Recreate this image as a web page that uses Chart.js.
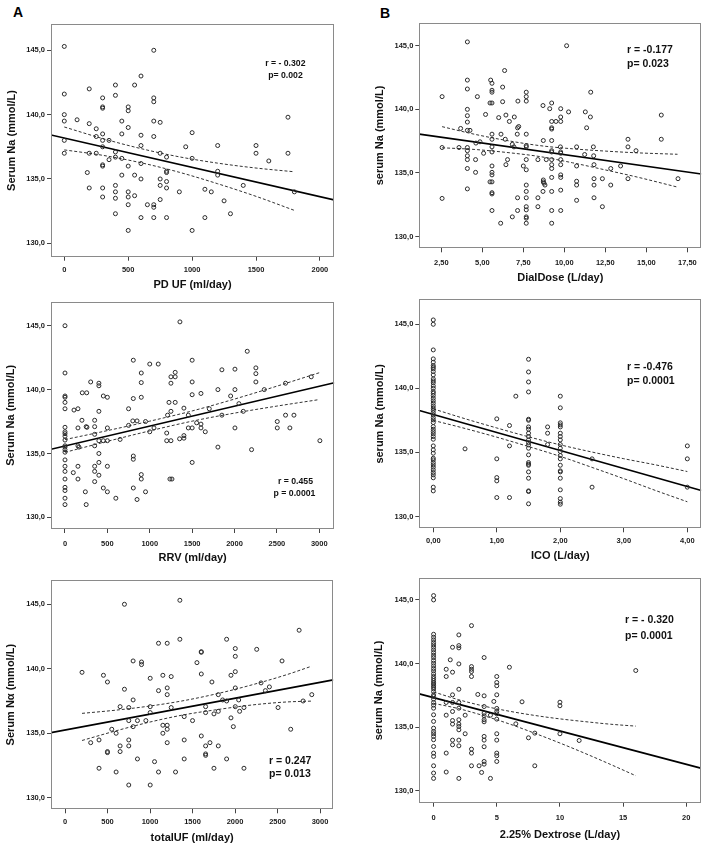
<!DOCTYPE html>
<html><head><meta charset="utf-8">
<script src="https://cdn.jsdelivr.net/npm/chart.js@4.4.1/dist/chart.umd.min.js"></script>
<style>
html,body{margin:0;padding:0;background:#fff;}
body{width:709px;height:849px;position:relative;overflow:hidden;font-family:'Liberation Sans',Arial,sans-serif;}
canvas{position:absolute;}
.lbl{position:absolute;font:bold 14px 'Liberation Sans',Arial,sans-serif;line-height:14px;color:#000;}
</style></head><body>
<div class="lbl" style="left:13px;top:5px">A</div>
<div class="lbl" style="left:380px;top:6px">B</div>
<canvas id="a1"></canvas><canvas id="b1"></canvas>
<canvas id="a2"></canvas><canvas id="b2"></canvas>
<canvas id="a3"></canvas><canvas id="b3"></canvas>
<script>
// ---------------- DATA ----------------
// scatter points grouped by x value: [x, [y values...]]
const A1_POINTS = [[0,[145.3,141.6,140.0,139.5,138.0,137.0]],[100,[139.6]],[180,[135.5]],[195,[142.0,139.3,137.0,134.3]],[250,[138.9,138.3,137.0]],[300,[141.3,140.6,140.5,138.5,138.0,137.5,136.1,136.0,134.3,133.6]],[350,[138.0,136.5]],[400,[142.3,141.5,137.1,136.7,134.5,134.0,133.5,132.3]],[450,[139.5,138.5,136.6,135.3]],[500,[140.6,140.3,139.0,136.0,134.0,133.6,133.0,131.0]],[550,[142.3,135.3,133.7]],[600,[143.0,138.4,137.6,136.2,135.0,132.0]],[650,[133.0]],[700,[145.0,141.3,141.0,139.5,138.3,133.0,132.8,132.0]],[750,[139.4,137.0,135.0,134.5,133.4]],[800,[136.7,135.6,135.5,134.8,134.3,132.0]],[900,[134.0]],[950,[137.5]],[1000,[138.6,136.6,131.0]],[1100,[134.2,132.0]],[1150,[134.0]],[1200,[137.6,135.6,135.3]],[1250,[133.3]],[1300,[132.3]],[1400,[134.5]],[1500,[137.6,137.0]],[1600,[136.4]],[1750,[139.8,137.0]],[1800,[134.0]]];
const A1_FIT = [[-104,138.42],[2110,133.37]];
const A1_BAND_X = [0,300,600,900,1200,1500,1800];
const A1_BAND_UP = [139.04,138.14,137.36,136.72,136.23,135.85,135.56];
const A1_BAND_LO = [137.26,136.84,136.26,135.52,134.63,133.65,132.56];
const A1_X_TICKS = [0,500,1000,1500,2000];

const B1_POINTS = [[2.55,[141.0,137.0,133.0]],[3.58,[137.0]],[3.68,[138.5]],[4.09,[145.3,142.3,141.6,140.0,139.5,139.0,138.35,137.0,136.75,136.35,136.05,135.35,133.75]],[4.25,[138.35]],[4.59,[136.05,135.05]],[4.61,[137.35]],[4.7,[141.0]],[4.86,[137.45]],[5.08,[136.55]],[5.2,[139.6]],[5.47,[140.5,134.3]],[5.51,[142.3]],[5.59,[142.05,141.5,141.35,140.5,138.05,137.65,137.05,136.65,135.55,135.05,134.85,134.3,133.45,133.35,132.05]],[6.0,[139.35]],[6.12,[131.05]],[6.14,[138.05]],[6.24,[141.75,140.6]],[6.36,[143.05]],[6.4,[137.65]],[6.44,[139.55,135.65]],[6.54,[136.05]],[6.65,[139.05]],[6.83,[137.25,131.55]],[6.93,[137.05]],[6.95,[139.4]],[7.13,[138.05]],[7.15,[138.55,133.05,132.05]],[7.17,[140.65]],[7.22,[138.65]],[7.5,[135.55]],[7.68,[141.35,141.0,140.65,138.05,137.15,137.05,136.05,135.25,134.05,133.55,133.05,132.35,132.1,131.55,131.45,131.05]],[8.39,[136.05,133.05,132.35]],[8.7,[140.3,133.55]],[8.72,[137.55,134.45,134.3]],[8.76,[134.2]],[8.82,[134.05]],[8.9,[136.05]],[9.11,[140.05]],[9.23,[140.5,139.05,138.55,138.45,137.55,136.75,136.65,136.05,135.65,135.35,134.65,133.55,132.05,131.05]],[9.49,[139.05]],[9.76,[137.05]],[9.78,[140.05,139.4,139.05,136.65,136.55,136.05,135.65,134.85,134.65,133.65,132.05]],[10.14,[145.0]],[10.26,[139.8]],[10.75,[137.05,135.55,134.35,134.05,132.85]],[11.24,[136.45]],[11.28,[139.8]],[11.36,[138.55]],[11.59,[139.4]],[11.61,[141.35]],[11.77,[137.05]],[11.79,[136.35]],[11.81,[135.65,134.55,134.05,133.05]],[12.32,[134.55,132.35]],[12.83,[135.35,134.05]],[13.43,[135.55]],[13.88,[137.65,137.05,134.55]],[14.37,[136.75]],[15.91,[139.55,137.65]],[16.93,[134.55]]];
const B1_FIT = [[1.16,138.06],[18.35,134.92]];
const B1_BAND_X = [2.55,4.5,6.5,8.5,10.5,12.5,14.5,16.9];
const B1_BAND_UP = [138.64,138.05,137.55,137.15,136.9,136.72,136.58,136.47];
const B1_BAND_LO = [136.98,136.85,136.61,136.29,135.8,135.24,134.66,133.89];
const B1_X_TICKS = [2.5,5,7.5,10,12.5,15,17.5];

const A2_POINTS = [[0,[145.0,141.3,139.5,139.4,139.0,138.5,137.05,136.7,136.55,136.35,136.05,135.6,135.5,135.3,135.1,134.5,134.0,133.6,133.0,132.35,132.1,131.5,131.0]],[98,[133.5]],[106,[138.4]],[153,[138.5,137.0,135.6,134.0,133.0]],[165,[135.5]],[200,[137.6]],[204,[139.75]],[240,[132.0]],[250,[137.1,131.0]],[256,[139.75]],[259,[137.05]],[303,[140.6]],[350,[137.6,137.1,136.5,135.6,134.0,133.6,132.8]],[400,[140.5,140.3,138.3,136.0,135.0,134.3,133.3]],[452,[139.5,136.0,132.3]],[500,[139.4,137.0,136.0,134.0,132.0]],[600,[131.5]],[650,[136.1]],[750,[138.5,137.2]],[800,[137.55]],[806,[142.3,139.3,134.8,134.55,132.3]],[850,[137.55,131.4]],[900,[141.3,140.55,139.4,133.35,133.0]],[950,[137.5,132.0]],[1000,[142.0,136.7]],[1050,[137.0]],[1100,[142.0]],[1200,[136.6,136.0]],[1210,[138.0]],[1227,[139.0]],[1238,[133.0]],[1250,[141.0,140.5,138.3,136.0]],[1262,[133.0]],[1300,[141.35,141.0,139.0]],[1352,[136.15]],[1356,[145.3]],[1403,[138.55,136.4,136.2]],[1455,[138.0,137.0]],[1500,[142.3,140.6,139.6,137.0,134.3]],[1553,[137.4]],[1604,[139.7,137.3,137.0]],[1655,[136.7]],[1702,[138.5]],[1804,[140.0,135.5]],[1851,[141.55,138.0]],[1954,[139.5]],[2005,[141.6,140.0,137.0]],[2052,[138.9]],[2103,[138.3]],[2150,[143.0]],[2201,[135.3]],[2252,[141.7,141.25,140.6]],[2351,[140.0]],[2504,[137.5,137.0]],[2602,[140.5,138.0]],[2653,[137.0]],[2701,[138.0]],[2905,[141.0]],[3007,[136.0]]];
const A2_FIT = [[-165,135.33],[3177,140.54]];
const A2_BAND_X = [0,500,1000,1500,2000,2500,3000];
const A2_BAND_UP = [136.09,136.79,137.53,138.33,139.26,140.27,141.32];
const A2_BAND_LO = [135.09,135.95,136.77,137.53,138.16,138.71,139.22];
const A2_X_TICKS = [0,500,1000,1500,2000,2500,3000];

const B2_POINTS = [[0,[145.34,145.0,143.0,142.3,142.04,141.78,141.65,141.52,141.31,141.05,140.74,140.58,140.43,140.19,140.0,139.75,139.62,139.44,139.23,139.03,138.84,138.63,138.45,138.29,138.11,137.93,137.72,137.54,137.33,137.02,136.81,136.63,136.45,136.24,136.03,135.51,135.2,134.94,134.55,134.42,134.21,134.03,133.85,133.64,133.43,133.25,133.02,132.29,132.0]],[0.5,[135.28]],[1.0,[137.62,134.5,133.04,132.78,131.48]],[1.2,[137.1,135.51,131.48]],[1.3,[139.39]],[1.5,[142.27,141.28,140.5,139.72,137.59,137.51,136.99,136.81,136.5,136.24,135.98,135.77,135.59,135.33,134.81,134.21,134.08,134.0,133.48,132.99,132.0,131.95,130.99]],[1.8,[136.99,136.5,135.62]],[2.0,[139.39,138.48,137.31,137.15,136.99,136.5,136.24,135.98,135.62,135.33,135.07,134.76,134.5,134.0,133.56,133.48,132.99,132.08,131.4,131.12,130.96]],[2.5,[134.5,132.29]],[4.0,[135.51,134.5,132.29]]];
const B2_FIT = [[-0.22,138.27],[4.22,132.03]];
const B2_BAND_X = [0,0.5,1,1.5,2,2.5,3,3.5,4];
const B2_BAND_UP = [138.40,137.63,136.91,136.22,135.59,135.03,134.51,134.03,133.51];
const B2_BAND_LO = [137.50,136.87,136.19,135.46,134.69,133.83,132.95,132.03,131.15];
const B2_X_TICKS = [0,1,2,3,4];

const A3_POINTS = [[200,[139.73]],[302,[134.28]],[400,[134.49,132.3]],[452,[139.5]],[499,[138.98,133.59,133.51]],[550,[135.32]],[601,[135.01,132.01]],[648,[137.07,134.03,133.59]],[699,[145.0,138.42]],[750,[137.0,135.99,134.49,134.03,131.0]],[801,[140.61,137.59,135.52]],[852,[135.99,133.02]],[900,[140.53,140.33]],[951,[135.99]],[1002,[139.27,137.07,136.61,131.0]],[1053,[132.81]],[1100,[141.98,138.31,132.01]],[1151,[139.5,135.63,135.01]],[1202,[141.98,138.52,138.0,135.63,135.32,134.28]],[1249,[139.4,137.0]],[1300,[132.01]],[1351,[145.31,142.29]],[1402,[136.3,134.49,133.02]],[1500,[135.99]],[1552,[140.48]],[1603,[141.33,141.28,139.6,134.8]],[1654,[137.07,136.61,134.03,133.41,133.3]],[1705,[134.28]],[1728,[138.98]],[1752,[136.51,132.3]],[1803,[138.0,136.71,134.03]],[1854,[137.59]],[1901,[142.29,137.51,133.02]],[1952,[139.5,136.2]],[1980,[135.52]],[2003,[141.57,140.97,139.78,138.52,137.07]],[2043,[137.59]],[2054,[136.71]],[2105,[137.0,132.3]],[2255,[141.51]],[2306,[138.91]],[2357,[138.31]],[2404,[138.6]],[2506,[137.0]],[2553,[140.61]],[2655,[135.32]],[2754,[142.99]],[2801,[137.51]],[2903,[138.0]]];
const A3_FIT = [[-165,135.05],[3156,139.14]];
const A3_BAND_X = [200,600,1000,1400,1800,2200,2600,2900];
const A3_BAND_UP = [136.55,136.8,137.12,137.54,138.09,138.76,139.53,140.2];
const A3_BAND_LO = [134.45,135.2,135.88,136.44,136.85,137.2,137.43,137.5];
const A3_X_TICKS = [0,500,1000,1500,2000,2500,3000];

const B3_POINTS = [[0,[145.34,145.0,142.3,142.07,141.86,141.65,141.47,141.28,141.07,140.86,140.65,140.47,140.24,140.03,139.82,139.61,139.42,139.19,138.98,138.82,138.66,138.51,138.4,138.27,138.14,138.01,137.8,137.54,137.41,137.2,136.94,136.73,136.49,135.97,135.45,134.92,134.66,134.48,134.27,134.01,133.48,132.96,132.7,131.96,131.39,130.97]],[1.0,[139.55,138.98,136.94,135.94,132.96,131.47]],[1.32,[140.29]],[1.5,[141.28,139.32,137.54,136.94,136.23,135.52,135.24,133.98,133.61]],[2.0,[142.25,141.41,141.23,139.97,137.98,136.94,136.49,135.58,135.24,135.05,134.79,133.98,133.53,130.97]],[2.5,[135.94,134.48]],[3.0,[142.98,139.76,139.55,139.37,138.98,133.27,132.96,131.96]],[3.5,[137.57]],[3.6,[131.96]],[3.8,[131.44]],[4.0,[140.47,137.46,136.62,136.1,135.89,135.58,135.42,134.27,133.98,133.46,132.3,132.09]],[4.5,[135.94,130.97]],[4.77,[137.02]],[5.0,[138.98,138.51,138.25,137.54,136.47,136.23,136.05,135.63,134.48,133.98,132.96,132.75,132.3]],[6.0,[139.71]],[6.51,[135.26]],[7.0,[136.99]],[7.51,[134.16]],[8.01,[134.53,131.96]],[10.0,[136.96,136.68,134.48]],[11.52,[133.95]],[16.0,[139.45]]];
const B3_FIT = [[-1.13,137.62],[21.14,131.78]];
const B3_BAND_X = [0,2,4,6,8,10,12,14,16];
const B3_BAND_UP = [137.77,137.15,136.65,136.25,135.92,135.65,135.43,135.23,135.08];
const B3_BAND_LO = [136.87,136.45,135.89,135.25,134.52,133.75,132.93,132.07,131.18];
const B3_X_TICKS = [0,5,10,15,20];

const Y_TICKS = [130,135,140,145];
const X_TITLES = ['PD UF (ml/day)','DialDose (L/day)','RRV (ml/day)','ICO (L/day)','totalUF (ml/day)','2.25% Dextrose (L/day)'];
const Y_TITLES = ['Serum Na (mmol/L)','serum Na (mmol/L)','Serum Na (mmol/L)','serum Na (mmol/L)','Serum N\u03b1 (mmol/L)','serum Na (mmol/L)'];
const NOTES = [['r = - 0.302','p= 0.002'],['r = -0.177','p= 0.023'],['r = 0.455','p = 0.0001'],['r = -0.476','p= 0.0001'],['r = 0.247','p= 0.013'],['r = - 0.320','p= 0.0001']];

// ---------------- helpers ----------------
function flatten(cols){ const out=[]; cols.forEach(([x,ys])=>ys.forEach(y=>out.push({x,y}))); return out; }
function pairs(arr){ return arr.map(([x,y])=>({x,y})); }
function zip(xs,ys){ return xs.map((x,i)=>({x,y:ys[i]})); }
const comma = d => v => Number(v).toFixed(d).replace('.',',');

Chart.defaults.font.family = "'Liberation Sans', Arial, sans-serif";
Chart.defaults.color = '#1a1a1a';

const panelDecor = {
  id:'panelDecor',
  afterDatasetsDraw(chart, args, o){
    const {ctx, chartArea:a} = chart;
    ctx.save();
    ctx.strokeStyle = '#8a8a8a'; ctx.lineWidth = 1;
    const l=Math.round(a.left), t=Math.round(a.top), r=Math.round(a.right), b=Math.round(a.bottom);
    ctx.strokeRect(l+0.5, t+0.5, r-l-1, b-t-1);
    ctx.fillStyle = '#111'; ctx.font = o.font; ctx.textAlign = o.align; ctx.textBaseline = 'middle';
    o.notes.forEach(([txt,x,y])=>ctx.fillText(txt,x,y));
    ctx.restore();
  }
};
Chart.register(panelDecor);

// layout of each panel (positions only)
const LAYOUT = [
 {id:'a1',left:0,top:0,w:354,h:295,padTop:24.3,padRight:20,yW:51,xH:38.3,xMin:-104,xMax:2110,yMin:128.96,yMax:147.02,xFmt:comma(0),xTickPad:4.5,xTitlePad:3.4,yTitlePad:5.4,
  noteFont:"bold 8.7px 'Liberation Sans', Arial, sans-serif",noteAlign:'center',notePos:[[285.3,63.3],[285.5,76]]},
 {id:'b1',left:354,top:0,w:355,h:288,padTop:22.7,padRight:7.7,yW:65.3,xH:39.7,xMin:1.16,xMax:18.35,yMin:129.08,yMax:146.81,xFmt:comma(2),xTickPad:6.5,xTitlePad:3.1,yTitlePad:19,
  noteFont:"bold 10.5px 'Liberation Sans', Arial, sans-serif",noteAlign:'left',notePos:[[273,50],[273,64]]},
 {id:'a2',left:0,top:280,w:354,h:568-280,padTop:21.7,padRight:19.7,yW:51,xH:39,xMin:-165,xMax:3177,yMin:129.09,yMax:146.88,xFmt:comma(0),xTickPad:6,xTitlePad:3.9,yTitlePad:4.6,
  noteFont:"bold 8.7px 'Liberation Sans', Arial, sans-serif",noteAlign:'center',notePos:[[295.5,201.7],[294.5,213.3]]},
 {id:'b2',left:354,top:280,w:355,h:567-280,padTop:19.3,padRight:7.7,yW:65.3,xH:38.7,xMin:-0.22,xMax:4.22,yMin:129.08,yMax:146.95,xFmt:comma(2),xTickPad:4.2,xTitlePad:4.4,yTitlePad:19,
  noteFont:"bold 10.5px 'Liberation Sans', Arial, sans-serif",noteAlign:'left',notePos:[[273,87.3],[273,100.7]]},
 {id:'a3',left:0,top:560,w:354,h:289,padTop:20,padRight:20.7,yW:51,xH:39.7,xMin:-165,xMax:3156,yMin:129.12,yMax:146.88,xFmt:comma(0),xTickPad:4,xTitlePad:4.4,yTitlePad:4.6,
  noteFont:"bold 10.5px 'Liberation Sans', Arial, sans-serif",noteAlign:'left',notePos:[[269,201],[269,214.3]]},
 {id:'b3',left:354,top:560,w:355,h:289,padTop:18.3,padRight:8.3,yW:65.3,xH:46.3,xMin:-1.13,xMax:21.14,yMin:129.06,yMax:146.70,xFmt:comma(0),xTickPad:6.8,xTitlePad:7.4,yTitlePad:18.4,
  noteFont:"bold 10.5px 'Liberation Sans', Arial, sans-serif",noteAlign:'left',notePos:[[271,60],[271,76]]}
];
const SERIES = [
 [A1_POINTS,A1_FIT,A1_BAND_X,A1_BAND_UP,A1_BAND_LO,A1_X_TICKS],
 [B1_POINTS,B1_FIT,B1_BAND_X,B1_BAND_UP,B1_BAND_LO,B1_X_TICKS],
 [A2_POINTS,A2_FIT,A2_BAND_X,A2_BAND_UP,A2_BAND_LO,A2_X_TICKS],
 [B2_POINTS,B2_FIT,B2_BAND_X,B2_BAND_UP,B2_BAND_LO,B2_X_TICKS],
 [A3_POINTS,A3_FIT,A3_BAND_X,A3_BAND_UP,A3_BAND_LO,A3_X_TICKS],
 [B3_POINTS,B3_FIT,B3_BAND_X,B3_BAND_UP,B3_BAND_LO,B3_X_TICKS]
];

LAYOUT.forEach((L,i)=>{
  const [pts,fit,bx,bu,bl,xt] = SERIES[i];
  const cv = document.getElementById(L.id);
  cv.width = L.w; cv.height = L.h;
  cv.style.left = L.left+'px'; cv.style.top = L.top+'px';
  cv.style.width = L.w+'px'; cv.style.height = L.h+'px';
  const bandStyle = {showLine:true,pointRadius:0,borderColor:'#333',borderWidth:1,borderDash:[3,2],cubicInterpolationMode:'monotone',fill:false};
  new Chart(cv,{
    type:'scatter',
    data:{datasets:[
      {data:flatten(pts),pointRadius:2,pointHoverRadius:2,borderWidth:1,borderColor:'#2a2a2a',backgroundColor:'rgba(255,255,255,0)',pointStyle:'circle'},
      {data:pairs(fit),showLine:true,pointRadius:0,borderColor:'#000',borderWidth:1.7},
      Object.assign({data:zip(bx,bu)},bandStyle),
      Object.assign({data:zip(bx,bl)},bandStyle)
    ]},
    options:{
      responsive:false,animation:false,events:[],
      layout:{padding:{top:L.padTop,right:L.padRight,left:0,bottom:0}},
      plugins:{legend:{display:false},tooltip:{enabled:false},
        panelDecor:{font:L.noteFont,align:L.noteAlign,notes:NOTES[i].map((t,k)=>[t,L.notePos[k][0],L.notePos[k][1]])}},
      scales:{
        x:{type:'linear',min:L.xMin,max:L.xMax,afterFit:s=>{s.height=L.xH;},
          afterBuildTicks:s=>{s.ticks=xt.map(v=>({value:v}));},
          ticks:{autoSkip:false,maxRotation:0,padding:L.xTickPad,font:{size:7.5,weight:'bold'},color:'#1a1a1a',callback:v=>L.xFmt(v)},
          grid:{display:true,drawOnChartArea:false,drawTicks:true,tickLength:4,color:'#444'},
          border:{display:false},
          title:{display:true,text:X_TITLES[i],font:{size:11,weight:'bold'},color:'#111',padding:{top:0,bottom:L.xTitlePad}}},
        y:{type:'linear',min:L.yMin,max:L.yMax,afterFit:s=>{s.width=L.yW;},
          afterBuildTicks:s=>{s.ticks=Y_TICKS.map(v=>({value:v}));},
          ticks:{autoSkip:false,padding:2,font:{size:7.5,weight:'bold'},color:'#1a1a1a',callback:v=>comma(1)(v)},
          grid:{display:true,drawOnChartArea:false,drawTicks:true,tickLength:4,color:'#444'},
          border:{display:false},
          title:{display:true,text:Y_TITLES[i],font:{size:11,weight:'bold'},color:'#111',padding:{top:L.yTitlePad,bottom:0}}}
      }
    }
  });
});
</script>
</body></html>
